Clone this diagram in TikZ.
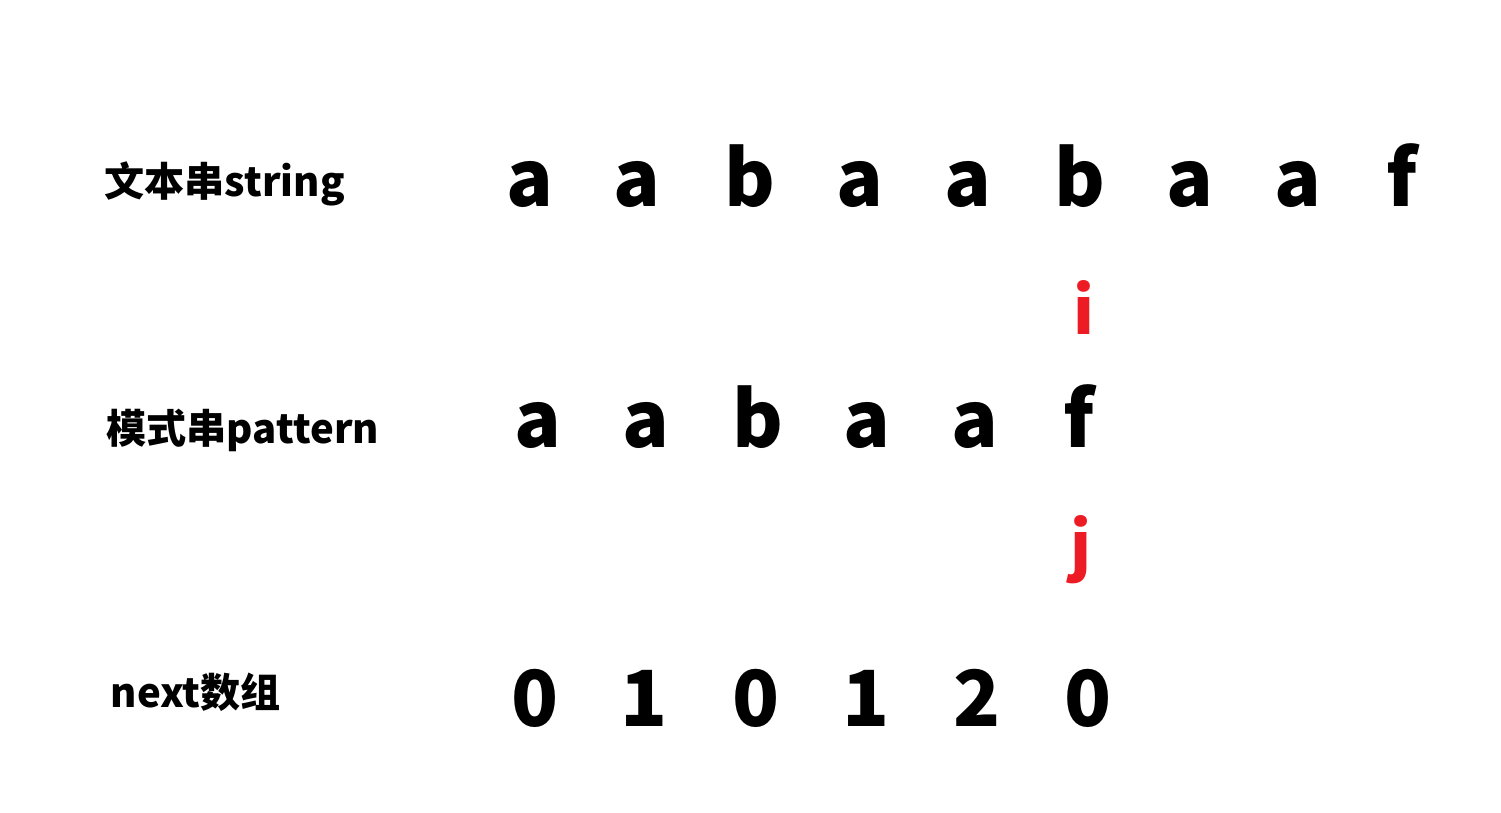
\documentclass[tikz,border=0pt]{standalone}
\usepackage{fontspec}
\setmainfont{Noto Sans CJK SC}
\definecolor{ptrred}{RGB}{237,28,36}
\tikzset{
  letter/.style={anchor=base, inner sep=0pt, font=\bfseries\fontsize{22}{22}\selectfont},
  rowlabel/.style={anchor=base west, inner sep=0pt, font=\bfseries\fontsize{11.4}{11.4}\selectfont},
  pointer/.style={anchor=base, inner sep=0pt, text=ptrred, font=\bfseries\fontsize{18.5}{18.5}\selectfont}
}

\begin{document}
\begin{tikzpicture}[x=0.01cm, y=-0.01cm]
\useasboundingbox (0,0) rectangle (1501,813);
% row labels
\node[rowlabel] (lstring) at (104,197) {文本串string};
\node[rowlabel] (lpattern) at (106,443) {模式串pattern};
\node[rowlabel] (lnext) at (110,707) {next数组};
% text string
\node[letter] (s0) at (530,207) {a};
\node[letter] (s1) at (637,207) {a};
\node[letter] (s2) at (750,207) {b};
\node[letter] (s3) at (860,207) {a};
\node[letter] (s4) at (968,207) {a};
\node[letter] (s5) at (1080,207) {b};
\node[letter] (s6) at (1190,207) {a};
\node[letter] (s7) at (1298,207) {a};
\node[letter] (s8) at (1402,207) {f};
% pointer i
\node[pointer] (i) at (1084,335) {i};
% pattern
\node[letter] (p0) at (538,448) {a};
\node[letter] (p1) at (646,448) {a};
\node[letter] (p2) at (758,448) {b};
\node[letter] (p3) at (867,448) {a};
\node[letter] (p4) at (975,448) {a};
\node[letter] (p5) at (1079,448) {f};
% pointer j
\node[pointer] (j) at (1081,569) {j};
% next array
\node[letter] (n0) at (535,726) {0};
\node[letter] (n1) at (644,726) {1};
\node[letter] (n2) at (756,726) {0};
\node[letter] (n3) at (866,726) {1};
\node[letter] (n4) at (977,726) {2};
\node[letter] (n5) at (1088,726) {0};
\end{tikzpicture}
\end{document}
